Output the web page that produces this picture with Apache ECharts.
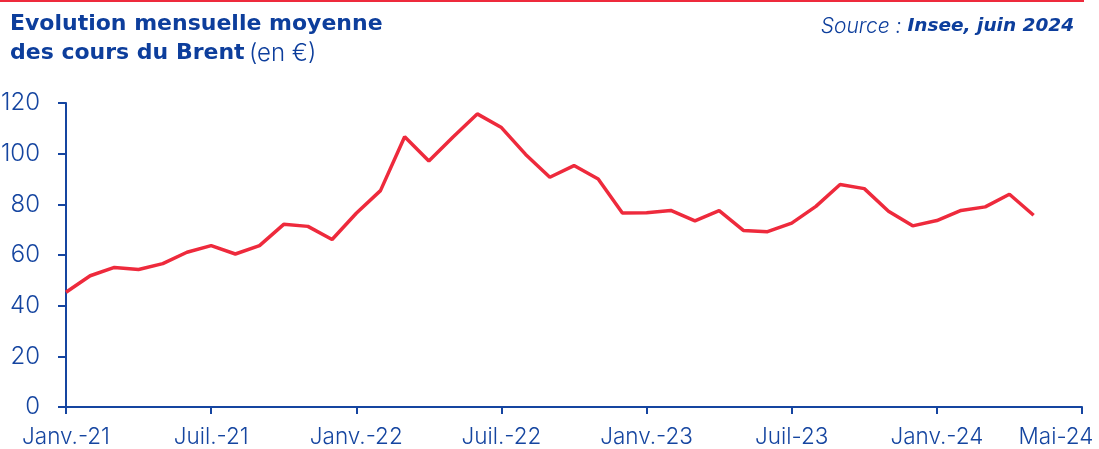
<!DOCTYPE html>
<html lang="fr">
<head>
    <meta charset="UTF-8">
    <title>Brent</title>
    <script src="https://cdn.jsdelivr.net/npm/echarts@6.0.0/dist/echarts.min.js"></script>
    <style>
        html, body { margin: 0; padding: 0; background: #fff; }
        #myChart { width: 1099px; height: 449px; }
    </style>
</head>
<body>
<div id="myChart"></div>
<script>
    // months Jan 2021 -> Jul 2024 (axis runs to Jul-24, data stops at May-24)
    var months = [];
    var monthNames = ['Janv.', 'Févr.', 'Mars', 'Avr.', 'Mai', 'Juin', 'Juil.', 'Août', 'Sept.', 'Oct.', 'Nov.', 'Déc.'];
    for (var y = 21; y <= 24; y++) {
        for (var m = 0; m < 12; m++) {
            if (y === 24 && m > 6) break;
            months.push(monthNames[m] + '-' + y);
        }
    }
    // shown tick labels (index -> text)
    var tickLabels = {0: 'Janv.-21', 6: 'Juil.-21', 12: 'Janv.-22', 18: 'Juil.-22',
        24: 'Janv.-23', 30: 'Juil-23', 36: 'Janv.-24', 42: 'Mai-24'};

    // Brent monthly average, euros
    var brent = [45.3, 51.8, 55.1, 54.3, 56.6, 61.1, 63.7, 60.4, 63.7, 72.1, 71.3, 66.1,
        76.5, 85.4, 106.7, 97.1, 106.6, 115.7, 110.3, 99.7, 90.7, 95.3, 90.0, 76.6,
        76.7, 77.6, 73.5, 77.5, 69.7, 69.2, 72.6, 79.2, 87.8, 86.2, 77.3, 71.5,
        73.6, 77.6, 79.0, 84.0, 75.7];

    var blue = '#1545a0';
    var titleBlue = '#0d3e9c';
    var font = 'Inter';
    var titleFont = 'DejaVu Sans';

    var myChart = echarts.init(document.getElementById('myChart'));

    var option = {
        animation: false,
        textStyle: { fontFamily: font },
        graphic: [
            { type: 'rect', left: 0, top: 0, shape: { width: 1084, height: 2 }, style: { fill: '#ee2a3c' } }
        ],
        title: [{
            left: 10, top: 10, padding: 0,
            text: '{b|Evolution mensuelle moyenne}\n{b|des cours du Brent} {n|(en €)}',
            textStyle: {
                rich: {
                    b: { fontFamily: titleFont, fontWeight: 'bold', fontSize: 22, color: titleBlue, lineHeight: 29 },
                    n: { fontFamily: font, fontWeight: 300, fontSize: 24, color: titleBlue, lineHeight: 29 }
                }
            }
        }, {
            right: 25, top: 16, padding: 0,
            text: '{l|Source : }{b|Insee, juin 2024}',
            textStyle: {
                rich: {
                    l: { fontFamily: font, fontStyle: 'italic', fontWeight: 300, fontSize: 21, color: titleBlue },
                    b: { fontFamily: titleFont, fontStyle: 'italic', fontWeight: 'bold', fontSize: 18.5, color: titleBlue }
                }
            }
        }],
        grid: { left: 66, right: 17, top: 103, bottom: 42, outerBoundsMode: 'none' },
        xAxis: {
            type: 'category',
            data: months,
            boundaryGap: false,
            axisLine: { lineStyle: { color: blue, width: 2 } },
            axisTick: {
                length: 7,
                lineStyle: { color: blue, width: 2 },
                interval: function (i) { return i % 6 === 0; }
            },
            axisLabel: {
                interval: function (i) { return i % 6 === 0; },
                formatter: function (v, i) {
                    var t = tickLabels[i] || '';
                    // last label sits partly left of its tick, as in the source
                    return i === 42 ? t + '{s|}' : t;
                },
                rich: { s: { width: 52 } },
                color: blue, fontSize: 22.5, fontWeight: 300, margin: 19, fontFamily: font,
                hideOverlap: false
            },
            splitLine: { show: false }
        },
        yAxis: {
            type: 'value',
            min: 0, max: 120, interval: 20,
            axisLine: { show: true, lineStyle: { color: blue, width: 2 } },
            axisTick: { show: true, length: 8, lineStyle: { color: blue, width: 2 } },
            axisLabel: { color: blue, fontSize: 24, fontWeight: 300, margin: 26, fontFamily: font },
            splitLine: { show: false }
        },
        series: [{
            type: 'line',
            data: brent,
            showSymbol: false,
            lineStyle: { color: '#ee2a3c', width: 3.5 },
            itemStyle: { color: '#ee2a3c' }
        }]
    };
    myChart.setOption(option);
</script>
</body>
</html>
